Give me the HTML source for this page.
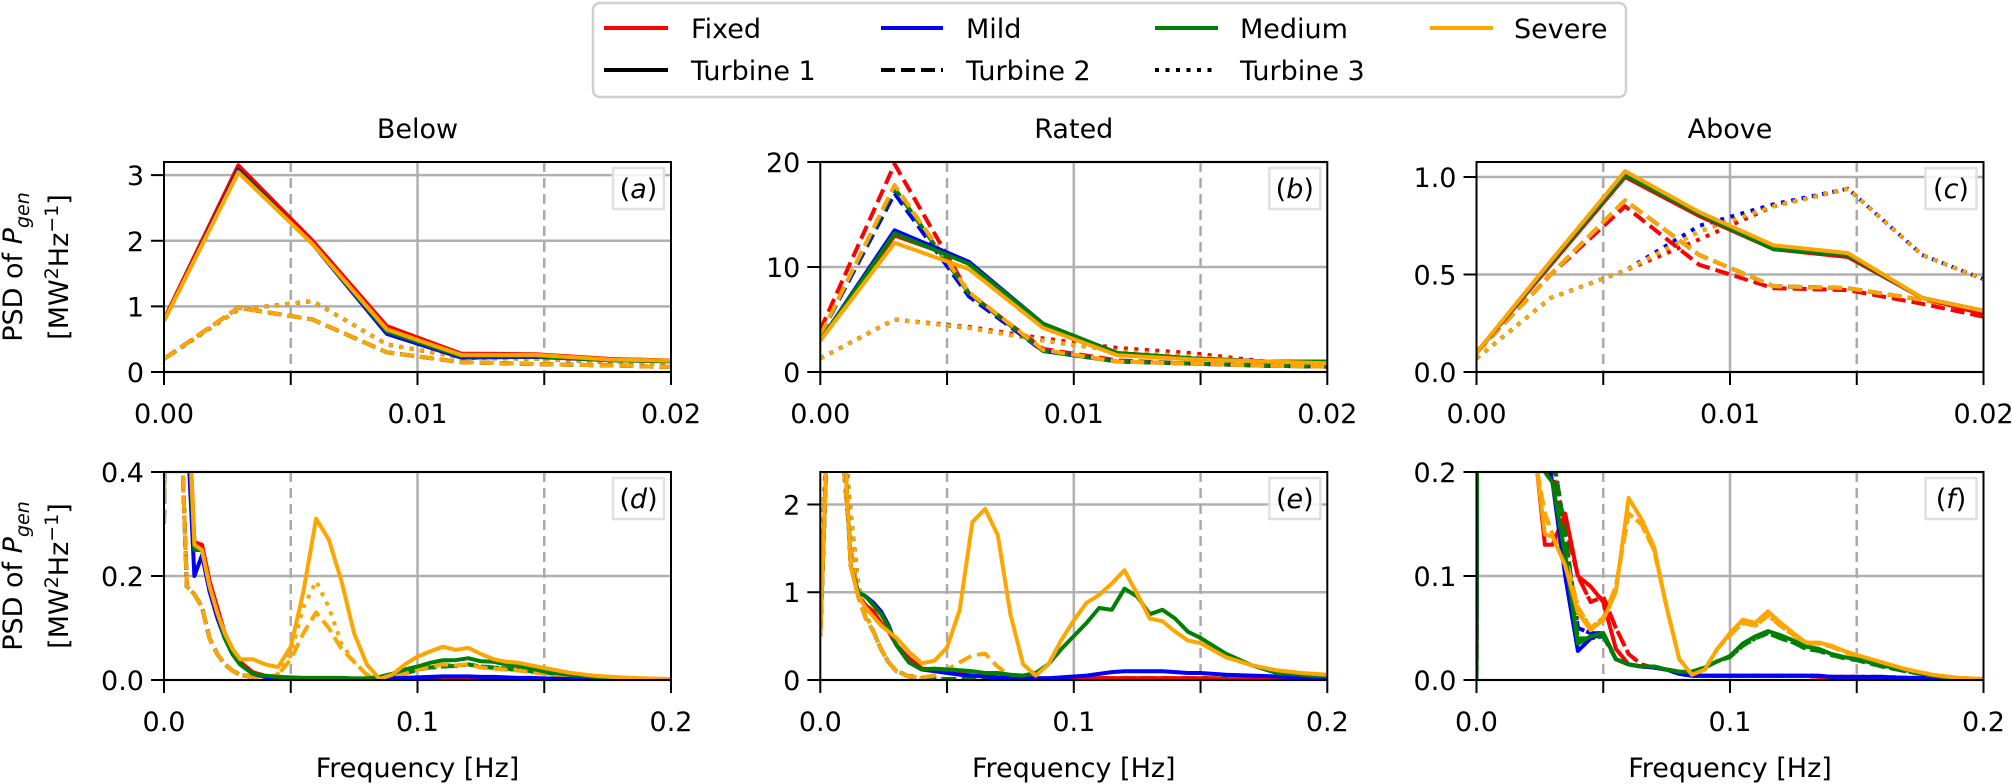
<!DOCTYPE html>
<html><head><meta charset="utf-8"><style>
html,body{margin:0;padding:0;background:#fff;}
svg{display:block;font-family:"DejaVu Sans","Liberation Sans",sans-serif;}
</style></head><body>
<svg id="fig" width="2012" height="784" viewBox="0 0 2012 784" xmlns="http://www.w3.org/2000/svg">
<g id="legend">
  <rect x="593" y="3" width="1033" height="94" rx="7" fill="#fff" stroke="#d0d0d0" stroke-width="2.5"/>
  <g><line x1="604" y1="28" x2="668" y2="28" stroke="#ff0000" stroke-width="4"/><text x="691" y="38" font-size="27">Fixed</text></g>
  <g><line x1="881" y1="28" x2="943" y2="28" stroke="#0000ff" stroke-width="4"/><text x="966" y="38" font-size="27">Mild</text></g>
  <g><line x1="1155" y1="28" x2="1218" y2="28" stroke="#008000" stroke-width="4"/><text x="1240" y="38" font-size="27">Medium</text></g>
  <g><line x1="1430" y1="28" x2="1493" y2="28" stroke="#ffa500" stroke-width="4"/><text x="1514" y="38" font-size="27">Severe</text></g>
  <g><line x1="604" y1="70" x2="668" y2="70" stroke="#000" stroke-width="4"/><text x="691" y="80" font-size="27">Turbine 1</text></g>
  <g><line x1="881" y1="70" x2="943" y2="70" stroke="#000" stroke-width="4" stroke-dasharray="14,6"/><text x="966" y="80" font-size="27">Turbine 2</text></g>
  <g><line x1="1155" y1="70" x2="1218" y2="70" stroke="#000" stroke-width="4" stroke-dasharray="4,6.5"/><text x="1240" y="80" font-size="27">Turbine 3</text></g>
</g>
</svg>
<script>
// ---------- data ----------
const topF = [0, 0.00293, 0.00586, 0.00879, 0.01172, 0.01465, 0.01758, 0.02051];
const botF = [0,0.003,0.006,0.009,0.012,0.015,0.018,0.021,0.024,0.027,0.03,0.035,0.04,0.045,0.05,0.055,0.06,0.065,0.07,0.075,0.08,0.085,0.09,0.095,0.1,0.105,0.11,0.115,0.12,0.125,0.13,0.135,0.14,0.145,0.15,0.16,0.17,0.18,0.19,0.2];

// panel a (Below, low freq)
const aFix1 = [0.8,3.15,2.0,0.7,0.28,0.27,0.2,0.17];
const aMild1 = [0.78,3.08,1.95,0.58,0.22,0.23,0.18,0.16];
const aMed1 = [0.78,3.06,1.95,0.62,0.24,0.24,0.18,0.16];
const aSev1 = [0.78,3.04,1.95,0.65,0.26,0.26,0.19,0.17];
const aT2 = [0.2,0.98,0.8,0.3,0.15,0.12,0.1,0.07];
const aT3 = [0.2,0.95,1.08,0.42,0.22,0.2,0.15,0.12];
// panel b (Rated, low freq)
const bFix1 = [3,13,10.5,4.5,1.8,1.3,1.0,0.9];
const bMild1 = [3,13.5,10.5,4.6,1.8,1.3,1.0,1.0];
const bMed1 = [3,13.2,10.3,4.6,1.8,1.3,1.0,1.0];
const bSev1 = [3,12.3,9.8,4.2,1.6,1.2,1.0,0.8];
const bFix2 = [4,19.8,7.5,2.2,1.1,0.8,0.6,0.5];
const bMild2 = [3.5,17,7.2,2.0,1.0,0.8,0.6,0.5];
const bMed2 = [3.5,17.5,7.5,2.0,1.0,0.8,0.6,0.5];
const bSev2 = [3.5,17.8,7.6,2.1,1.0,0.8,0.6,0.5];
const bFix3 = [1.3,5,4.3,3.2,2.3,1.8,1.0,0.5];
const bT3 = [1.3,5,4.2,3.0,2.0,1.5,0.9,0.5];
// panel c (Above, low freq)
const cFix1 = [0.1,0.55,1.0,0.8,0.63,0.59,0.38,0.28];
const cMild1 = [0.1,0.56,1.01,0.81,0.63,0.6,0.38,0.3];
const cSev1 = [0.1,0.57,1.03,0.82,0.65,0.61,0.38,0.3];
const cFix2 = [0.1,0.5,0.85,0.55,0.43,0.42,0.35,0.27];
const cT2 = [0.1,0.5,0.88,0.6,0.44,0.43,0.37,0.3];
const cFix3 = [0.07,0.38,0.52,0.68,0.85,0.94,0.6,0.45];
const cMild3 = [0.07,0.38,0.52,0.75,0.86,0.94,0.6,0.45];
const cMed3 = [0.07,0.38,0.52,0.72,0.85,0.94,0.6,0.45];
// panel d (Below, wide freq)
const dFix1 = [0.35,3,1.5,0.6,0.265,0.26,0.19,0.14,0.09,0.06,0.035,0.015,0.008,0.005,0.004,0.003,0.003,0.003,0.003,0.002,0.002,0.002,0.002,0.003,0.004,0.005,0.005,0.005,0.005,0.004,0.004,0.003,0.003,0.002,0.002,0.002,0.001,0.001,0.001,0.001];
const dMild1 = [0.35,3,1.5,0.5,0.2,0.24,0.17,0.12,0.08,0.05,0.03,0.012,0.006,0.004,0.003,0.003,0.002,0.002,0.002,0.002,0.002,0.002,0.003,0.004,0.005,0.006,0.007,0.007,0.007,0.006,0.006,0.005,0.004,0.004,0.003,0.002,0.002,0.001,0.001,0.001];
const dMed1 = [0.35,3,1.5,0.55,0.25,0.25,0.18,0.13,0.08,0.05,0.03,0.012,0.008,0.006,0.005,0.004,0.004,0.004,0.004,0.003,0.003,0.006,0.012,0.02,0.026,0.033,0.038,0.038,0.042,0.036,0.035,0.03,0.027,0.022,0.016,0.01,0.006,0.004,0.002,0.001];
const dSev1 = [0.35,3,1.5,0.6,0.26,0.25,0.18,0.13,0.09,0.06,0.04,0.04,0.03,0.025,0.064,0.17,0.31,0.27,0.19,0.09,0.03,0.002,0.01,0.03,0.045,0.055,0.064,0.058,0.062,0.05,0.04,0.035,0.033,0.028,0.023,0.014,0.008,0.005,0.003,0.002];
const dT2 = [0.3,2,0.6,0.18,0.165,0.14,0.08,0.05,0.03,0.018,0.01,0.006,0.004,0.003,0.002,0.002,0.002,0.002,0.002,0.002,0.002,0.002,0.002,0.002,0.003,0.003,0.003,0.003,0.003,0.003,0.003,0.002,0.002,0.002,0.002,0.001,0.001,0.001,0.001,0.001];
const dMed2 = [0.3,2,0.6,0.18,0.165,0.14,0.08,0.05,0.03,0.018,0.01,0.006,0.004,0.003,0.002,0.002,0.002,0.002,0.002,0.002,0.002,0.002,0.005,0.012,0.02,0.024,0.026,0.027,0.03,0.026,0.024,0.022,0.02,0.017,0.014,0.01,0.006,0.003,0.002,0.001];
const dSev2 = [0.3,2,0.6,0.18,0.165,0.14,0.08,0.05,0.03,0.018,0.01,0.006,0.005,0.01,0.04,0.09,0.13,0.1,0.06,0.035,0.01,0.002,0.003,0.012,0.02,0.025,0.03,0.028,0.03,0.024,0.022,0.02,0.018,0.015,0.012,0.007,0.004,0.002,0.001,0.001];
const dSev3 = [0.3,2,0.6,0.18,0.165,0.14,0.08,0.05,0.03,0.018,0.01,0.006,0.005,0.012,0.05,0.14,0.19,0.14,0.07,0.035,0.01,0.002,0.003,0.012,0.02,0.025,0.03,0.028,0.03,0.024,0.022,0.02,0.018,0.015,0.012,0.007,0.004,0.002,0.001,0.001];
// panel e (Rated, wide freq)
const eFix1 = [0.5,3,3,3,1.3,0.95,0.85,0.78,0.65,0.55,0.4,0.25,0.13,0.12,0.1,0.07,0.05,0.04,0.03,0.02,0.02,0.02,0.02,0.02,0.02,0.02,0.02,0.02,0.02,0.02,0.02,0.02,0.02,0.02,0.02,0.01,0.01,0.01,0.01,0.01];
const eMild1 = [0.5,3,3,3,1.3,1.0,0.95,0.88,0.78,0.62,0.4,0.2,0.12,0.1,0.08,0.06,0.05,0.04,0.03,0.03,0.02,0.02,0.02,0.03,0.04,0.05,0.07,0.09,0.1,0.1,0.1,0.1,0.09,0.08,0.08,0.06,0.05,0.04,0.03,0.02];
const eMed1 = [0.5,3,3,3,1.3,1.0,0.95,0.85,0.75,0.6,0.4,0.2,0.12,0.13,0.12,0.11,0.1,0.08,0.08,0.06,0.05,0.08,0.18,0.35,0.5,0.65,0.82,0.8,1.04,0.95,0.75,0.8,0.7,0.55,0.48,0.3,0.17,0.08,0.06,0.04];
const eSev1 = [0.5,3,3,3,1.3,0.95,0.82,0.72,0.62,0.55,0.48,0.32,0.19,0.22,0.37,0.8,1.8,1.95,1.65,0.75,0.18,0.05,0.18,0.45,0.68,0.88,0.97,1.1,1.25,0.98,0.7,0.67,0.55,0.45,0.42,0.26,0.17,0.11,0.08,0.06];
const eT2 = [0.5,3,3,2.5,1.5,0.95,0.7,0.55,0.35,0.2,0.1,0.04,0.02,0.015,0.01,0.01,0.01,0.01,0.01,0.01,0.01,0.01,0.01,0.02,0.02,0.02,0.02,0.02,0.02,0.02,0.02,0.02,0.02,0.02,0.02,0.02,0.01,0.01,0.01,0.01];
const eSev2 = [0.5,3,3,2.5,1.5,0.95,0.7,0.55,0.35,0.2,0.1,0.04,0.03,0.05,0.12,0.2,0.28,0.3,0.15,0.05,0.01,0.01,0.01,0.02,0.02,0.02,0.02,0.02,0.02,0.02,0.02,0.02,0.02,0.02,0.02,0.02,0.01,0.01,0.01,0.01];
const eT3 = [1.2,3,3,3,1.9,1.1,0.75,0.55,0.35,0.2,0.1,0.05,0.02,0.015,0.01,0.01,0.01,0.01,0.01,0.01,0.01,0.01,0.01,0.02,0.02,0.02,0.02,0.02,0.02,0.02,0.02,0.02,0.02,0.02,0.02,0.02,0.01,0.01,0.01,0.01];
// panel f (Above, wide freq)
const fFix1 = [0,3,3,3,2,1,0.5,0.3,0.2,0.13,0.13,0.16,0.1,0.09,0.075,0.03,0.015,0.013,0.012,0.01,0.008,0.005,0.004,0.004,0.004,0.004,0.004,0.004,0.004,0.004,0.004,0.003,0.003,0.003,0.003,0.002,0.002,0.001,0.001,0.001];
const fFix2 = [0,3,3,3,2,1,0.5,0.3,0.25,0.22,0.2,0.15,0.1,0.075,0.08,0.05,0.025,0.015,0.012,0.01,0.008,0.005,0.004,0.004,0.004,0.004,0.004,0.004,0.004,0.004,0.004,0.003,0.003,0.003,0.003,0.002,0.002,0.001,0.001,0.001];
const fMild1 = [0,3,3,3,2,1,0.5,0.35,0.25,0.22,0.19,0.1,0.028,0.04,0.045,0.02,0.015,0.013,0.012,0.01,0.006,0.004,0.004,0.004,0.004,0.004,0.004,0.004,0.004,0.004,0.004,0.004,0.003,0.003,0.003,0.003,0.002,0.002,0.001,0.001];
const fMild3 = [0,3,3,3,2,1,0.6,0.4,0.3,0.25,0.22,0.14,0.05,0.045,0.045,0.02,0.015,0.013,0.012,0.01,0.006,0.004,0.004,0.004,0.004,0.004,0.004,0.004,0.004,0.004,0.004,0.004,0.003,0.003,0.003,0.003,0.002,0.002,0.001,0.001];
const fMed1 = [0,3,3,3,2,1,0.5,0.35,0.25,0.2,0.19,0.12,0.035,0.042,0.045,0.02,0.015,0.013,0.013,0.01,0.008,0.008,0.012,0.018,0.023,0.035,0.042,0.047,0.043,0.038,0.032,0.03,0.025,0.022,0.02,0.014,0.009,0.004,0.001,0];
const fMed3 = [0,3,3,3,2,1,0.6,0.4,0.3,0.25,0.22,0.14,0.04,0.04,0.042,0.02,0.015,0.013,0.013,0.01,0.008,0.008,0.012,0.018,0.022,0.033,0.04,0.045,0.04,0.036,0.03,0.028,0.024,0.021,0.019,0.013,0.008,0.004,0.001,0];
const fSev1 = [0.2,3,3,3,2,1,0.5,0.3,0.2,0.14,0.138,0.11,0.065,0.048,0.058,0.085,0.175,0.155,0.128,0.07,0.02,0.005,0.01,0.03,0.045,0.058,0.055,0.066,0.055,0.045,0.036,0.036,0.033,0.028,0.024,0.017,0.01,0.005,0.002,0.001];
const fSev2 = [0.2,3,3,3,2,1,0.5,0.3,0.2,0.16,0.14,0.12,0.07,0.05,0.06,0.09,0.16,0.15,0.125,0.07,0.02,0.005,0.01,0.03,0.043,0.055,0.052,0.062,0.052,0.043,0.035,0.035,0.032,0.027,0.023,0.016,0.01,0.005,0.002,0.001];

// ---------- drawing ----------
const NS = 'http://www.w3.org/2000/svg';
const svg = document.getElementById('fig');
const COLORS = {fixed:'#ff0000', mild:'#0000ff', medium:'#008000', severe:'#ffa500'};
const DASH = {1:'', 2:'14,6', 3:'4,6.5'};
const colX = [164, 820.3, 1476.5];
const PW = 507;
const rowY = [[162, 372], [472, 680]];

const panels = [
  {id:'a', c:0, r:0, xs:topF, xmax:0.02, ymax:3.2, yt:[0,1,2,3], ytl:['0','1','2','3'], title:'Below',
   series:[['fixed',3,aT3],['mild',3,aT3],['medium',3,aT3],['severe',3,aT3],
           ['fixed',2,aT2],['mild',2,aT2],['medium',2,aT2],['severe',2,aT2],
           ['fixed',1,aFix1],['mild',1,aMild1],['medium',1,aMed1],['severe',1,aSev1]]},
  {id:'b', c:1, r:0, xs:topF, xmax:0.02, ymax:20, yt:[0,10,20], ytl:['0','10','20'], title:'Rated',
   series:[['fixed',3,bFix3],['mild',3,bT3],['medium',3,bT3],['severe',3,bT3],
           ['fixed',2,bFix2],['mild',2,bMild2],['medium',2,bMed2],['severe',2,bSev2],
           ['fixed',1,bFix1],['mild',1,bMild1],['medium',1,bMed1],['severe',1,bSev1]]},
  {id:'c', c:2, r:0, xs:topF, xmax:0.02, ymax:1.077, yt:[0,0.5,1.0], ytl:['0.0','0.5','1.0'], title:'Above',
   series:[['fixed',3,cFix3],['mild',3,cMild3],['medium',3,cMed3],['severe',3,cMed3],
           ['fixed',2,cFix2],['mild',2,cT2],['medium',2,cT2],['severe',2,cT2],
           ['fixed',1,cFix1],['mild',1,cMild1],['medium',1,cMild1],['severe',1,cSev1]]},
  {id:'d', c:0, r:1, xs:botF, xmax:0.2, ymax:0.4, yt:[0,0.2,0.4], ytl:['0.0','0.2','0.4'],
   series:[['fixed',3,dT2],['mild',3,dT2],['medium',3,dMed2],['severe',3,dSev3],
           ['fixed',2,dT2],['mild',2,dT2],['medium',2,dMed2],['severe',2,dSev2],
           ['fixed',1,dFix1],['mild',1,dMild1],['medium',1,dMed1],['severe',1,dSev1]]},
  {id:'e', c:1, r:1, xs:botF, xmax:0.2, ymax:2.37, yt:[0,1,2], ytl:['0','1','2'],
   series:[['fixed',3,eT3],['mild',3,eT3],['medium',3,eT3],['severe',3,eT3],
           ['fixed',2,eT2],['mild',2,eT2],['medium',2,eT2],['severe',2,eSev2],
           ['fixed',1,eFix1],['mild',1,eMild1],['medium',1,eMed1],['severe',1,eSev1]]},
  {id:'f', c:2, r:1, xs:botF, xmax:0.2, ymax:0.2, yt:[0,0.1,0.2], ytl:['0.0','0.1','0.2'],
   series:[['fixed',3,fFix2],['mild',3,fMild3],['medium',3,fMed3],['severe',3,fSev2],
           ['fixed',2,fFix2],['mild',2,fMild3],['medium',2,fMed3],['severe',2,fSev2],
           ['fixed',1,fFix1],['mild',1,fMild1],['medium',1,fMed1],['severe',1,fSev1]]}
];

function mk(tag, attrs, parent){
  const e = document.createElementNS(NS, tag);
  for (const k in attrs) e.setAttribute(k, attrs[k]);
  (parent||svg).appendChild(e);
  return e;
}
const defs = mk('defs', {});

panels.forEach(p => {
  const L = colX[p.c], R = L + PW, T = rowY[p.r][0], B = rowY[p.r][1];
  const xS = v => L + v / p.xmax * PW;
  const yS = v => B - v / p.ymax * (B - T);
  const g = mk('g', {});
  
  
  const cp = mk('clipPath', {id:'clip-' + p.id}, defs);
  mk('rect', {x:L, y:T, width:PW, height:B - T}, cp);

  p.yt.forEach(v => {
    const ln = mk('line', {x1:L, x2:R, y1:yS(v), y2:yS(v), stroke:'#b0b0b0', 'stroke-width':2.5}, g);
    
    
  });
  const xt = [0, p.xmax/2, p.xmax];
  const ln = mk('line', {x1:xS(p.xmax/2), x2:xS(p.xmax/2), y1:T, y2:B, stroke:'#b0b0b0', 'stroke-width':2.5}, g);
  
  
  [p.xmax/4, 3*p.xmax/4].forEach(v => {
    const dl = mk('line', {x1:xS(v), x2:xS(v), y1:T, y2:B, stroke:'#aaaaaa', 'stroke-width':2.5, 'stroke-dasharray':'10,6'}, g);
    
    
  });

  const sg = mk('g', {'clip-path':'url(#clip-' + p.id + ')'}, g);
  p.series.forEach(s => {
    const [col, tb, ys] = s;
    const d = ys.map((v, i) => (i ? 'L' : 'M') + xS(p.xs[i]).toFixed(1) + ',' + yS(v).toFixed(1)).join(' ');
    const path = mk('path', {d:d, fill:'none', stroke:COLORS[col], 'stroke-width':4, 'stroke-linejoin':'round'}, sg);
    if (DASH[tb]) path.setAttribute('stroke-dasharray', DASH[tb]);
    
    
  });

  const fr = mk('rect', {x:L, y:T, width:PW, height:B - T, fill:'none', stroke:'#000', 'stroke-width':2}, g);
  
  

  p.yt.forEach((v, i) => {
    mk('line', {x1:L - 13, x2:L, y1:yS(v), y2:yS(v), stroke:'#000', 'stroke-width':2}, g);
    const t = mk('text', {x:L - 20, y:yS(v) + 10, 'font-size':27, 'text-anchor':'end'}, g);
    t.textContent = p.ytl[i];
    
    
  });
  const xtl = p.r === 0 ? ['0.00','0.01','0.02'] : ['0.0','0.1','0.2'];
  [0, p.xmax/4, p.xmax/2, 3*p.xmax/4, p.xmax].forEach(v => {
    mk('line', {x1:xS(v), x2:xS(v), y1:B, y2:B + 13, stroke:'#000', 'stroke-width':2}, g);
  });
  xt.forEach((v, i) => {
    const t = mk('text', {x:xS(v), y:B + 51, 'font-size':27, 'text-anchor':'middle'}, g);
    t.textContent = xtl[i];
    
    
  });

  const lb = mk('rect', {x:R - 58, y:T + 6, width:51, height:41, fill:'#fff', 'fill-opacity':0.85, stroke:'#e0e0e0', 'stroke-width':2.5}, g);
  
  
  const lt = mk('text', {x:R - 32.5, y:T + 36, 'font-size':27, 'text-anchor':'middle'}, g);
  lt.innerHTML = '(<tspan font-style="italic">' + p.id + '</tspan>)';
  
  

  if (p.title) {
    const tt = mk('text', {x:L + PW/2, y:138, 'font-size':27, 'text-anchor':'middle'}, g);
    tt.textContent = p.title;
    
    
  }
  if (p.r === 1) {
    const xl = mk('text', {x:L + PW/2, y:777, 'font-size':27, 'text-anchor':'middle'}, g);
    xl.textContent = 'Frequency [Hz]';
    
    
  }
  if (p.c === 0) {
    const cy = (T + B) / 2;
    const yl = mk('text', {transform:'translate(22,' + cy + ') rotate(-90)', 'font-size':27, 'text-anchor':'middle'}, g);
    yl.innerHTML = 'PSD of <tspan font-style="italic">P</tspan><tspan font-style="italic" font-size="19" dy="7">gen</tspan>';
    
    
    const yl2 = mk('text', {transform:'translate(68,' + cy + ') rotate(-90)', 'font-size':27, 'text-anchor':'middle'}, g);
    yl2.innerHTML = '[MW<tspan font-size="19" dy="-10">2</tspan><tspan dy="10">Hz</tspan><tspan font-size="19" dy="-10">−1</tspan><tspan dy="10">]</tspan>';
    
    
  }
});
</script>
</body></html>
